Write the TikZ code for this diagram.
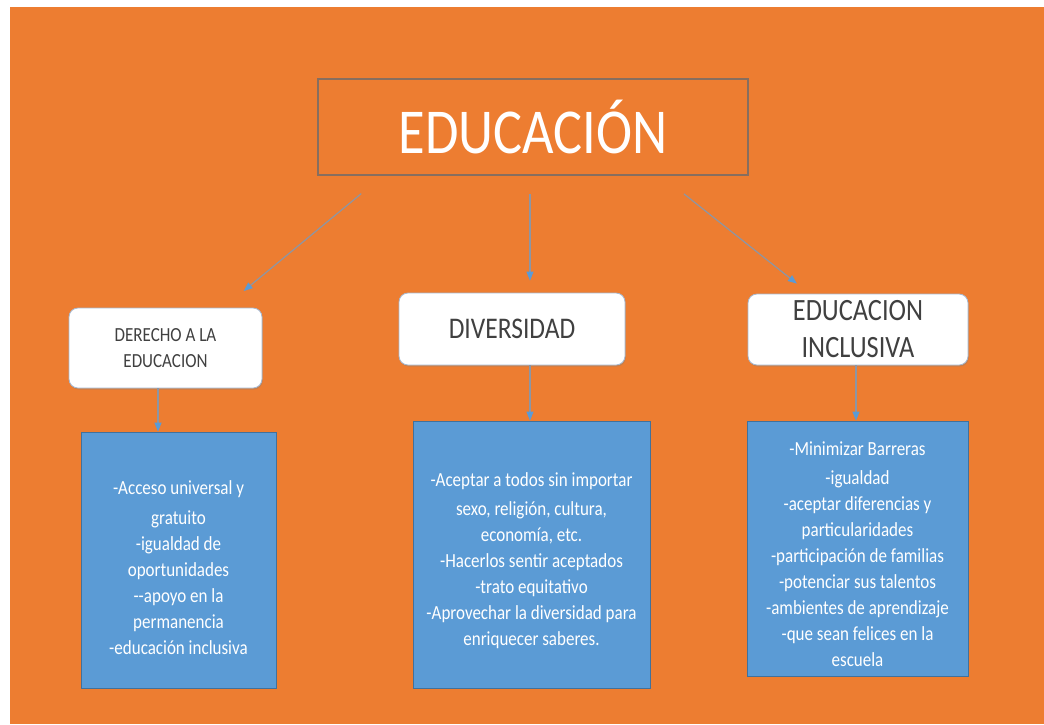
\documentclass[tikz,border=0pt]{standalone}
\usepackage{fontspec}
\setmainfont{Carlito}[FakeStretch=0.85]
\usetikzlibrary{arrows.meta, calc, shadows}
\definecolor{fondo}{RGB}{237,125,49}
\definecolor{azul}{RGB}{91,155,213}
\definecolor{azulborde}{RGB}{65,113,156}
\definecolor{gristexto}{RGB}{64,64,64}
\definecolor{flecha}{RGB}{140,150,165}
\definecolor{bordetitulo}{RGB}{135,110,95}
\definecolor{bordetema}{RGB}{165,185,210}
\tikzset{
  x=1pt, y=-1pt,
  titulo/.style={draw=bordetitulo, line width=1.6pt, minimum width=430pt,
    minimum height=96pt, text=white, font=\fontsize{64}{70}\selectfont},
  tema/.style={draw=bordetema, line width=0.8pt, fill=white,
    rounded corners=9pt, text=gristexto, align=center,
    drop shadow={shadow xshift=0.8pt, shadow yshift=-1.6pt, opacity=0.35}},
  detalle/.style={draw=azulborde, line width=0.8pt, fill=azul, text=white,
    align=center, font=\fontsize{20}{26}\selectfont},
  conn/.style={draw=flecha, line width=1.2pt,
    -{Triangle[color=azul, length=9pt, width=7pt]}},
}

\begin{document}
\begin{tikzpicture}
  \useasboundingbox (0,0) rectangle (1044,724);
  \fill[white] (0,0) rectangle (1044,724);
  \fill[fondo] (10,7) rectangle (1044,724);

  % nivel superior
  \node[titulo] (edu) at (533,127) {EDUCACIÓN};

  % temas
  \node[tema, minimum width=193pt, minimum height=80pt,
        font=\fontsize{20}{26}\selectfont] (der) at (165.5,348)
        {DERECHO A LA\\EDUCACION};
  \node[tema, minimum width=226pt, minimum height=72pt,
        font=\fontsize{30}{35}\selectfont] (div) at (512,329) {DIVERSIDAD};
  \node[tema, minimum width=220pt, minimum height=71pt,
        font=\fontsize{31}{37}\selectfont] (inc) at (858,329.5)
        {EDUCACION\\INCLUSIVA};

  % detalles
  \node[detalle, minimum width=195pt, minimum height=256pt] (b1) at (178.5,560)
        {\rule{0pt}{30pt}-Acceso universal y\\[4pt] gratuito\\ -igualdad de\\ oportunidades\\
         -{}-apoyo en la\\ permanencia\\ -educación inclusiva};
  \node[detalle, minimum width=237pt, minimum height=267pt] (b2) at (531.5,554.5)
        {\rule{0pt}{27pt}-Aceptar a todos sin importar\\[3pt] sexo, religión, cultura,\\
         economía, etc.\\ -Hacerlos sentir aceptados\\ -trato equitativo\\
         -Aprovechar la diversidad para\\ enriquecer saberes.};
  \node[detalle, minimum width=221pt, minimum height=255pt] (b3) at (857.5,548.5)
        {\rule{0pt}{25pt}-Minimizar Barreras\\[3pt] -igualdad\\ -aceptar diferencias y\\
         particularidades\\ -participación de familias\\ -potenciar sus talentos\\
         -ambientes de aprendizaje\\ -que sean felices en la\\ escuela};

  % conexiones
  \draw[conn, shorten <=28pt, shorten >=26pt]
    ($(edu.south west)!0.152!(edu.south east)$) -- ($(der.north west)!0.8!(der.north east)$);
  \draw[conn, shorten <=18pt, shorten >=12pt]
    ([xshift=-3pt]edu.south) -- ([xshift=-3pt]edu.south |- div.north);
  \draw[conn, shorten <=29pt, shorten >=16pt]
    ($(edu.south west)!0.797!(edu.south east)$) -- ($(inc.north west)!0.28!(inc.north east)$);
  \draw[conn] ([xshift=-7.5pt]der.south) -- ([xshift=-7.5pt]der.south |- b1.north);
  \draw[conn] ([xshift=-1.5pt]b2.north |- div.south) -- ([xshift=-1.5pt]b2.north);
  \draw[conn] ([xshift=-1.5pt]b3.north |- inc.south) -- ([xshift=-1.5pt]b3.north);
\end{tikzpicture}
\end{document}
